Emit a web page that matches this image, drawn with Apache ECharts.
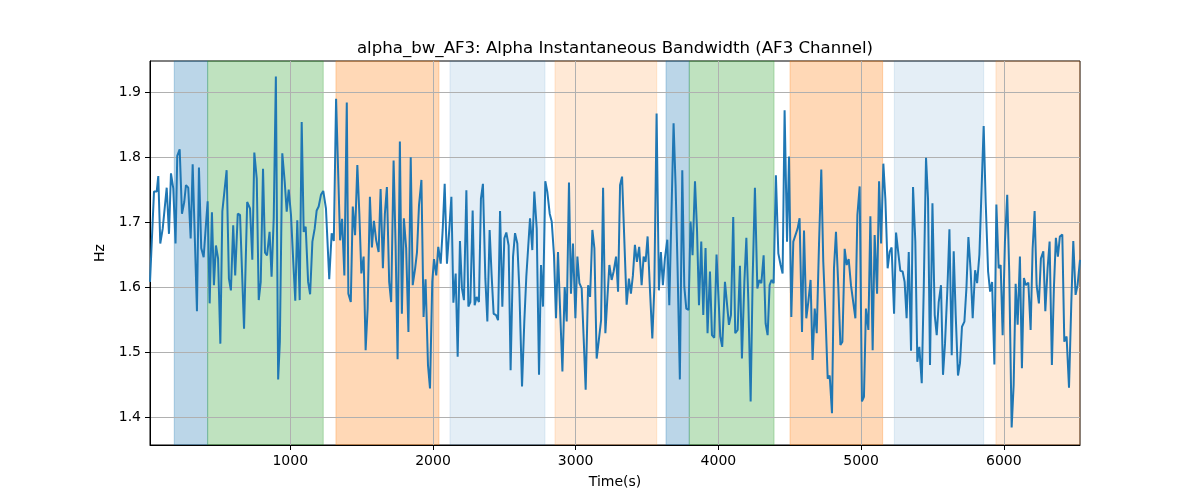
<!DOCTYPE html>
<html>
<head>
<meta charset="utf-8">
<script src="https://cdn.jsdelivr.net/npm/echarts@6/dist/echarts.min.js"></script>
<style>html,body{margin:0;padding:0;background:#fff}#c{width:1200px;height:500px}</style>
</head>
<body>
<div id="c"></div>
<script>
const times = [
17,45,64,75,89,106,134,150,164,180,196,208,225,241,257,269,285,302,316,330,346,360,376,393,407,421,435,451,465,479,494,510,524,538,554,570,584,600,614,632,648,676,
698,718,734,748,765,779,793,809,823,837,855,869,884,899,915,927,944,961,975,989,1005,1021,1035,1049,1066,1080,1094,1108,1125,1139,1155,1171,1185,1199,1215,1231,1250,1273,1290,1305,1321,
1349,1363,1379,1396,1407,1424,1438,1454,1470,1484,1498,1514,1528,1542,1558,1572,1586,1602,1619,1633,1649,1663,1677,1693,1707,1724,1738,1752,1768,1782,1796,1812,1828,1844,1858,1875,1888,1902,1919,1934,1948,1965,1979,
1995,2007,2023,2037,2054,2068,2082,2098,2114,2129,2143,2159,2173,2189,2203,2217,2234,2248,2262,2278,2292,2306,2322,2336,2350,2367,2381,2397,2411,2425,2442,2456,2470,2486,2500,2514,2530,2544,2561,2575,2591,2605,2624,2640,2654,2666,
2680,2696,2710,2727,2743,2757,2771,2787,2801,2818,2832,2848,2862,2876,2893,2907,2923,2937,2953,2967,2981,2998,3012,3026,3042,3056,3070,3087,3101,3117,3131,3147,3161,3178,3192,3208,3222,3236,3252,3266,3283,3297,3311,3325,
3357,3373,3387,3401,3415,3429,3445,3462,3476,3490,3504,3520,3537,3551,3567,3583,3597,3611,3625,3642,3656,3670,3686,3700,3714,3730,3747,3761,3775,3791,3805,3819,3836,3850,3864,3880,3894,3910,3924,3941,3955,3971,3987,
3999,4013,4027,4046,4060,4074,4088,4104,4118,4135,4151,4165,4182,4196,4210,4226,4240,4256,4273,4287,4301,4317,4331,4345,4359,4373,4387,4403,4420,4436,4450,4464,4481,4495,4511,4525,4539,4555,4569,4586,4600,4616,4630,4646,4660,
4675,4689,4705,4721,4735,4752,4766,4780,4796,4810,4824,4841,4855,4869,4885,4899,4913,4929,4943,4960,4974,4990,5006,5020,5034,5051,5065,5081,5095,5112,5126,5140,5156,5170,5186,5200,5214,5231,5245,5261,5275,5291,5305,5319,
5334,5350,5364,5380,5394,5408,5425,5439,5455,5469,5483,5500,5516,5530,5544,5560,5574,5588,5605,5619,5635,5649,5663,5679,5693,5707,5724,5738,5752,5768,5782,5799,5813,5829,5843,5859,5873,5890,5904,5918,5934,5948,5964,5978,5992,
6008,6024,6038,6055,6069,6083,6097,6113,6127,6141,6155,6172,6188,6202,6216,6230,6246,6260,6277,6291,6307,6321,6337,6351,6365,6379,6393,6410,6424,6440,6457,6473,6487,6503,6517,6534
];
const values = [
1.608,1.747,1.747,1.771,1.667,1.690,1.753,1.682,1.775,1.752,1.667,1.802,1.812,1.713,1.731,1.757,1.753,1.675,1.789,1.789,1.563,1.784,1.660,1.646,1.690,1.732,1.575,1.715,1.603,1.664,1.644,1.513,1.717,1.715,1.780,1.613,1.595,1.695,1.618,1.713,1.711,1.536,
1.731,1.721,1.642,1.807,1.767,1.580,1.608,1.782,1.653,1.649,1.685,1.616,1.706,1.924,1.458,1.516,1.806,1.762,1.716,1.750,1.711,1.639,1.579,1.703,1.580,1.854,1.685,1.693,1.608,1.589,1.670,1.690,1.718,1.724,1.742,1.748,1.721,1.612,1.683,1.671,1.890,
1.672,1.705,1.618,1.884,1.590,1.577,1.724,1.680,1.788,1.713,1.621,1.647,1.503,1.567,1.739,1.661,1.702,1.672,1.654,1.751,1.629,1.713,1.754,1.608,1.577,1.795,1.665,1.489,1.824,1.559,1.706,1.660,1.531,1.800,1.603,1.629,1.654,1.726,1.765,1.554,1.612,1.480,1.444,
1.608,1.643,1.618,1.662,1.636,1.688,1.759,1.636,1.688,1.739,1.576,1.621,1.493,1.671,1.598,1.580,1.749,1.570,1.577,1.718,1.572,1.585,1.577,1.736,1.759,1.613,1.547,1.688,1.618,1.559,1.557,1.549,1.717,1.570,1.675,1.684,1.664,1.472,1.647,1.683,1.667,1.598,1.447,1.547,1.616,1.613,
1.706,1.657,1.747,1.690,1.465,1.634,1.570,1.763,1.747,1.713,1.701,1.649,1.552,1.654,1.552,1.470,1.600,1.547,1.761,1.590,1.667,1.552,1.647,1.606,1.598,1.521,1.442,1.603,1.585,1.688,1.660,1.490,1.516,1.549,1.753,1.529,1.583,1.634,1.611,1.624,1.647,1.593,1.757,1.770,
1.573,1.613,1.590,1.618,1.665,1.639,1.662,1.603,1.647,1.639,1.678,1.598,1.521,1.598,1.867,1.595,1.654,1.603,1.644,1.673,1.572,1.703,1.852,1.757,1.629,1.458,1.780,1.601,1.567,1.565,1.701,1.649,1.763,1.690,1.572,1.670,1.557,1.660,1.529,1.624,1.526,1.522,1.650,
1.593,1.524,1.508,1.608,1.611,1.542,1.557,1.708,1.529,1.534,1.633,1.490,1.608,1.676,1.577,1.424,1.613,1.753,1.598,1.611,1.606,1.649,1.544,1.526,1.603,1.611,1.606,1.772,1.652,1.634,1.621,1.872,1.670,1.801,1.554,1.670,1.667,1.690,1.706,1.531,1.687,1.552,1.577,1.611,1.488,
1.567,1.529,1.665,1.781,1.639,1.547,1.459,1.464,1.406,1.629,1.685,1.598,1.511,1.516,1.659,1.634,1.643,1.603,1.600,1.552,1.711,1.755,1.424,1.431,1.567,1.534,1.709,1.503,1.680,1.590,1.763,1.667,1.790,1.736,1.629,1.654,1.661,1.559,1.684,1.652,1.625,1.624,1.608,1.552,
1.654,1.502,1.754,1.670,1.485,1.508,1.452,1.598,1.799,1.736,1.480,1.729,1.557,1.526,1.577,1.603,1.465,1.513,1.598,1.689,1.495,1.655,1.557,1.464,1.483,1.539,1.547,1.598,1.677,1.624,1.552,1.626,1.606,1.650,1.647,1.848,1.731,1.624,1.593,1.608,1.481,1.727,1.629,1.634,1.526,
1.670,1.742,1.624,1.384,1.449,1.605,1.542,1.647,1.475,1.614,1.603,1.607,1.534,1.659,1.717,1.603,1.575,1.644,1.655,1.563,1.629,1.670,1.480,1.598,1.676,1.647,1.678,1.681,1.516,1.524,1.445,1.575,1.671,1.588,1.603,1.642
];
const bandStarts = [187, 421, 1320, 2119, 2855, 3633, 3796, 4502, 5233, 5945];
const bandEnds   = [421, 1231, 2042, 2785, 3568, 3796, 4390, 5151, 5859, 6534];
const bandKinds  = ['blue','green','orange','lightblue','lightorange','blue','green','orange','lightblue','lightorange'];
const xTicks = [1000, 2000, 3000, 4000, 5000, 6000];
const yTicks = [1.4, 1.5, 1.6, 1.7, 1.8, 1.9];

const bandColors = {
  blue: 'rgba(31,119,180,0.3)',
  green: 'rgba(44,160,44,0.3)',
  orange: 'rgba(255,127,14,0.3)',
  lightblue: 'rgba(31,119,180,0.12)',
  lightorange: 'rgba(255,127,14,0.17)'
};
const font = 'DejaVu Sans';
const chart = echarts.init(document.getElementById('c'));
const bands = bandStarts.map((s, i) => [
  { xAxis: s, itemStyle: { color: bandColors[bandKinds[i]], borderColor: bandColors[bandKinds[i]], borderWidth: 1 } },
  { xAxis: bandEnds[i] }
]);
chart.setOption({
  animation: false,
  backgroundColor: '#fff',
  title: {
    text: 'alpha_bw_AF3: Alpha Instantaneous Bandwidth (AF3 Channel)',
    left: 610, top: 35, textAlign: 'center',
    textStyle: { fontFamily: font, fontSize: 16.6, fontWeight: 'normal', color: '#000' }
  },
  grid: { left: 150, right: 120, top: 61, bottom: 55, show: true, borderColor: '#000', borderWidth: 1, backgroundColor: 'transparent' },
  xAxis: {
    type: 'value', min: 17, max: 6534, z: 1.5,
    name: 'Time(s)', nameLocation: 'middle', nameGap: 30,
    nameTextStyle: { fontFamily: font, fontSize: 14, color: '#000' },
    axisLine: { show: true, lineStyle: { color: '#000', width: 1 } },
    axisTick: { show: true, length: 5, customValues: xTicks, lineStyle: { color: '#000' } },
    axisLabel: { customValues: xTicks, margin: 9, fontFamily: font, fontSize: 14, color: '#000', formatter: v => String(Math.round(v)) },
    splitLine: { show: true, lineStyle: { color: '#b0b0b0', width: 1 } }
  },
  yAxis: {
    type: 'value', min: 1.357, max: 1.948, z: 1.5,
    name: 'Hz', nameLocation: 'middle', nameGap: 40, nameRotate: 90,
    nameTextStyle: { fontFamily: font, fontSize: 14, color: '#000' },
    axisLine: { show: true, lineStyle: { color: '#000', width: 1 } },
    axisTick: { show: true, length: 5, customValues: yTicks, lineStyle: { color: '#000' } },
    axisLabel: { customValues: yTicks, margin: 9, fontFamily: font, fontSize: 14, color: '#000', formatter: v => v.toFixed(1) },
    splitLine: { show: true, lineStyle: { color: '#b0b0b0', width: 1 } }
  },
  series: [
    {
      type: 'line', data: [], silent: true, z: 1,
      markArea: { silent: true, data: bands }
    },
    {
      type: 'line', z: 3,
      data: times.map((t, i) => [t, values[i]]),
      showSymbol: false, symbol: 'none',
      lineStyle: { color: '#1f77b4', width: 2 },
      itemStyle: { color: '#1f77b4' }
    }
  ]
});
</script>
</body>
</html>
